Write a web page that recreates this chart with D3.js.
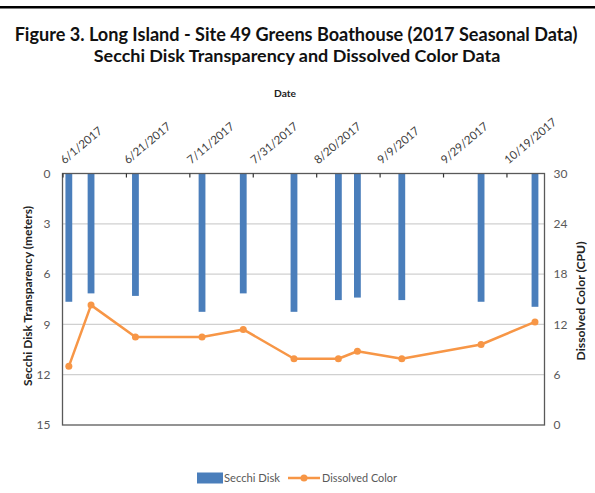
<!DOCTYPE html>
<html>
<head>
<meta charset="utf-8">
<script src="https://cdn.jsdelivr.net/npm/d3@7"></script>
<style>
  body { margin: 0; background: #fff; }
  svg { display: block; font-family: Lato, 'Open Sans', sans-serif; }
</style>
</head>
<body>
<div id="chart"></div>
<script>
'use strict';

// sample dates and readings
var dates = ['6/3/2017', '6/10/2017', '6/24/2017', '7/15/2017', '7/28/2017', '8/13/2017',
  '8/27/2017', '9/2/2017', '9/16/2017', '10/11/2017', '10/28/2017'];
var secchi = [7.65, 7.15, 7.3, 8.25, 7.15, 8.25, 7.55, 7.4, 7.55, 7.65, 7.95];
var dissolved = [7.0, 14.3, 10.5, 10.5, 11.4, 7.9, 7.9, 8.8, 7.9, 9.6, 12.3];

var dateTicks = ['6/1/2017', '6/21/2017', '7/11/2017', '7/31/2017', '8/20/2017',
  '9/9/2017', '9/29/2017', '10/19/2017'];
var dateRange = ['6/1/2017', '10/31/2017'];
var leftTicks = [0, 3, 6, 9, 12, 15];
var rightTicks = [0, 6, 12, 18, 24, 30];

var W = 595, H = 493;
var margin = { top: 173.5, right: 50.5, bottom: 68, left: 62.5 };
var width = W - margin.left - margin.right;
var height = H - margin.top - margin.bottom;

var parse = d3.timeParse('%m/%d/%Y');
var blue = '#4a7ebb';
var orange = '#f79646';
var axisCol = '#595959';

var data = dates.map(function (d, i) {
  return { date: parse(d), secchi: secchi[i], color: dissolved[i] };
});

var svg = d3.select('#chart').append('svg').attr('width', W).attr('height', H);

// fit text to a target width by scaling its font size
function fit(sel, target, base) {
  sel.style('font-size', base + 'px');
  var len = sel.node().getComputedTextLength();
  sel.style('font-size', (base * target / len).toFixed(2) + 'px');
}

// frame line at top of the page
svg.append('rect').attr('x', 0).attr('y', 6).attr('width', W).attr('height', 2.5).attr('fill', '#000');

var t1 = svg.append('text').attr('x', 296).attr('y', 41).attr('text-anchor', 'middle')
  .style('font-weight', 'bold').attr('fill', '#111')
  .text('Figure 3. Long Island - Site 49 Greens Boathouse (2017 Seasonal Data)');
fit(t1, 563, 16);
var t2 = svg.append('text').attr('x', 297).attr('y', 62).attr('text-anchor', 'middle')
  .style('font-weight', 'bold').attr('fill', '#111')
  .text('Secchi Disk Transparency and Dissolved Color Data');
fit(t2, 407, 16);

var x = d3.scaleTime().domain(dateRange.map(parse)).range([0, width]);
var yL = d3.scaleLinear().domain([0, 15]).range([0, height]);
var yR = d3.scaleLinear().domain([0, 30]).range([height, 0]);

var g = svg.append('g').attr('transform', 'translate(' + margin.left + ',' + margin.top + ')');

// gridlines
g.append('g').selectAll('line').data(leftTicks.slice(1, -1)).enter().append('line')
  .attr('x1', 0).attr('x2', width)
  .attr('y1', function (d) { return yL(d); }).attr('y2', function (d) { return yL(d); })
  .attr('stroke', '#d0d0d0').attr('stroke-width', 1.2);

// secchi bars hang down from the top
var bw = 6.8;
g.append('g').selectAll('rect').data(data).enter().append('rect')
  .attr('x', function (d) { return x(d.date) - bw / 2; })
  .attr('y', yL(0))
  .attr('width', bw)
  .attr('height', function (d) { return yL(d.secchi) - yL(0); })
  .attr('fill', blue);

// plot frame
g.append('rect').attr('x', 0).attr('y', 0).attr('width', width).attr('height', height)
  .attr('fill', 'none').attr('stroke', axisCol).attr('stroke-width', 1.3);

// top date axis
var xAxis = d3.axisTop(x).tickValues(dateTicks.map(parse)).tickSize(-4).tickFormat('');
g.append('g').call(xAxis).call(function (s) {
  s.select('.domain').remove();
  s.selectAll('line').attr('stroke', '#333').attr('stroke-width', 1.2);
});

g.append('g').selectAll('text').data(dateTicks).enter().append('text')
  .attr('transform', function (d) {
    return 'translate(' + (x(parse(d)) + 2) + ',-9) rotate(-40)';
  })
  .attr('fill', '#404040').style('font-size', '11.5px')
  .text(function (d) { return d; });

// left axis
var yAxisL = d3.axisLeft(yL).tickValues(leftTicks).tickSize(0).tickPadding(12);
g.append('g').call(yAxisL).call(function (s) {
  s.select('.domain').remove();
  s.selectAll('text').attr('fill', axisCol).style('font-size', '12px').style('font-family', 'Lato, sans-serif');
});

// right axis
var yAxisR = d3.axisRight(yR).tickValues(rightTicks).tickSize(0).tickPadding(9);
g.append('g').attr('transform', 'translate(' + width + ',0)').call(yAxisR).call(function (s) {
  s.select('.domain').remove();
  s.selectAll('text').attr('fill', axisCol).style('font-size', '12px').style('font-family', 'Lato, sans-serif');
});

// dissolved color line
var line = d3.line()
  .x(function (d) { return x(d.date); })
  .y(function (d) { return yR(d.color); });

g.append('path').datum(data).attr('d', line)
  .attr('fill', 'none').attr('stroke', orange).attr('stroke-width', 2.5).attr('stroke-linejoin', 'round');

g.append('g').selectAll('circle').data(data).enter().append('circle')
  .attr('cx', function (d) { return x(d.date); })
  .attr('cy', function (d) { return yR(d.color); })
  .attr('r', 3.5).attr('fill', orange);

// axis titles
var dt = svg.append('text').attr('x', 285).attr('y', 97).attr('text-anchor', 'middle')
  .style('font-weight', 'bold').attr('fill', '#222').text('Date');
fit(dt, 22, 11);

var lt = svg.append('text').attr('transform', 'translate(32,296) rotate(-90)').attr('text-anchor', 'middle')
  .style('font-weight', 'bold').attr('fill', '#222').text('Secchi Disk Transparency (meters)');
fit(lt, 180, 11);

var rt = svg.append('text').attr('transform', 'translate(585,301) rotate(-90)').attr('text-anchor', 'middle')
  .style('font-weight', 'bold').attr('fill', '#222').text('Dissolved Color (CPU)');
fit(rt, 119, 11);

// legend
var lg = svg.append('g').attr('transform', 'translate(0,478)');
lg.append('rect').attr('x', 197).attr('y', -5.5).attr('width', 26).attr('height', 11).attr('fill', blue);
var l1 = lg.append('text').attr('x', 224).attr('y', 4).attr('fill', axisCol).text('Secchi Disk');
fit(l1, 56, 11);
lg.append('line').attr('x1', 288).attr('x2', 320).attr('y1', 0).attr('y2', 0)
  .attr('stroke', orange).attr('stroke-width', 2.5);
lg.append('circle').attr('cx', 304).attr('cy', 0).attr('r', 3.5).attr('fill', orange);
var l2 = lg.append('text').attr('x', 322).attr('y', 4).attr('fill', axisCol).text('Dissolved Color');
fit(l2, 75, 11);
</script>
</body>
</html>
